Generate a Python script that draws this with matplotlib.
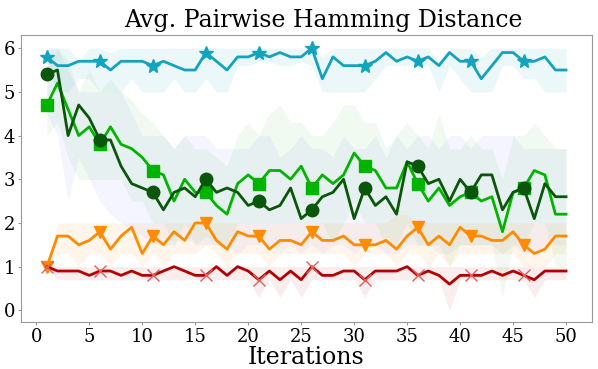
import matplotlib
matplotlib.use("Agg")
import matplotlib.pyplot as plt
import numpy as np

plt.rcParams['font.family'] = ['DejaVu Serif']

iters = np.arange(1, 51)

# mean values per method
cyan = [5.8, 5.6, 5.6, 5.7, 5.7, 5.7, 5.5, 5.7, 5.7, 5.7,
        5.6, 5.7, 5.6, 5.5, 5.5, 5.9, 5.7, 5.5, 5.8, 5.8,
        5.9, 5.8, 5.9, 5.8, 5.8, 6.0, 5.3, 5.8, 5.6, 5.6,
        5.6, 5.7, 5.9, 5.7, 5.8, 5.7, 5.8, 5.6, 5.9, 5.7,
        5.7, 5.3, 5.6, 5.9, 5.9, 5.7, 5.7, 5.8, 5.5, 5.5]
dgreen = [5.4, 5.5, 4.0, 4.7, 4.4, 3.9, 3.9, 3.3, 2.9, 2.8,
          2.7, 2.3, 2.7, 2.8, 2.6, 3.0, 2.7, 2.8, 2.7, 2.4,
          2.5, 2.3, 2.4, 2.8, 2.1, 2.3, 2.6, 2.7, 3.0, 2.1,
          2.8, 2.4, 2.6, 2.2, 3.4, 3.3, 2.9, 3.0, 2.5, 3.0,
          2.7, 3.1, 3.1, 2.3, 2.7, 2.8, 2.1, 2.9, 2.6, 2.6]
green = [4.7, 5.2, 4.6, 4.0, 4.2, 3.8, 4.2, 3.8, 3.7, 3.5,
         3.2, 3.1, 2.5, 3.0, 2.7, 2.7, 2.4, 2.2, 2.9, 3.1,
         2.9, 3.2, 3.2, 3.0, 3.3, 2.8, 3.1, 2.9, 3.1, 3.6,
         3.3, 3.2, 2.8, 2.8, 3.4, 2.9, 2.5, 2.8, 2.4, 2.6,
         2.7, 2.5, 2.6, 1.8, 2.7, 2.8, 3.2, 3.1, 2.2, 2.2]
orange = [1.0, 1.7, 1.7, 1.5, 1.6, 1.8, 1.4, 1.7, 1.9, 1.3,
          1.7, 1.5, 1.8, 1.6, 2.0, 2.0, 1.6, 1.4, 1.8, 1.7,
          1.7, 1.4, 1.6, 1.6, 1.5, 1.8, 1.6, 1.6, 1.7, 1.5,
          1.5, 1.5, 1.6, 1.4, 1.7, 1.9, 1.5, 1.7, 1.5, 1.9,
          1.7, 1.7, 1.6, 1.6, 1.8, 1.5, 1.3, 1.4, 1.7, 1.7]
red = [1.0, 0.9, 0.9, 0.9, 0.8, 0.9, 0.9, 0.8, 0.9, 0.8,
       0.8, 0.9, 1.0, 0.9, 0.8, 0.8, 1.0, 0.8, 1.0, 0.9,
       0.7, 0.9, 0.7, 0.9, 0.7, 1.0, 0.8, 0.8, 0.9, 0.9,
       0.7, 0.9, 0.9, 0.9, 1.0, 0.8, 0.9, 0.8, 0.6, 0.8,
       0.8, 0.8, 0.9, 0.8, 0.9, 0.8, 0.7, 0.9, 0.9, 0.9]

# min / max bands
cyan_lo = [5.6, 5.0, 5.0, 5.3, 5.3, 5.0, 5.0, 5.0, 5.3, 5.0,
           5.0, 5.0, 5.3, 5.0, 5.0, 5.3, 5.0, 5.0, 5.6, 5.6,
           5.7, 5.7, 5.6, 5.6, 5.7, 5.6, 5.0, 5.0, 5.0, 5.0,
           5.0, 5.3, 5.6, 5.6, 5.6, 5.6, 5.6, 5.0, 5.6, 5.3,
           5.0, 5.0, 5.0, 5.6, 5.6, 5.3, 5.3, 5.0, 5.0, 5.0]
cyan_hi = [6.0, 6.0, 6.0, 5.7, 6.0, 6.0, 5.9, 6.0, 6.0, 6.0,
           6.0, 6.0, 6.0, 6.0, 6.0, 6.0, 6.0, 6.0, 6.0, 6.0,
           6.0, 6.0, 6.0, 6.0, 6.0, 6.0, 5.8, 6.0, 6.0, 6.0,
           6.0, 6.0, 6.0, 6.0, 6.0, 6.0, 6.0, 5.7, 6.0, 6.0,
           6.0, 5.8, 6.0, 6.0, 6.0, 6.0, 6.0, 6.0, 6.0, 6.0]
dgreen_lo = [4.5, 4.0, 2.5, 3.5, 3.0, 2.5, 2.2, 2.0, 1.8, 1.7,
             1.5, 1.5, 1.5, 1.7, 1.5, 1.5, 1.5, 1.5, 1.3, 1.5,
             1.5, 1.5, 1.3, 1.5, 1.3, 1.5, 1.3, 1.5, 1.5, 1.3,
             1.5, 1.5, 1.3, 1.3, 1.5, 1.5, 1.5, 1.3, 1.3, 1.5,
             1.5, 1.5, 1.5, 1.3, 1.5, 1.3, 1.3, 1.5, 1.5, 1.5]
dgreen_hi = [6.0, 6.0, 5.5, 5.0, 5.0, 5.0, 5.0, 5.0, 4.5, 4.0,
             4.0, 4.0, 3.7, 4.0, 4.0, 4.0, 3.7, 3.7, 3.7, 3.7,
             4.0, 4.0, 3.5, 3.7, 4.0, 3.7, 3.7, 3.5, 4.0, 3.7,
             3.7, 4.0, 3.5, 4.0, 3.7, 4.0, 4.0, 3.7, 4.0, 4.0,
             3.7, 4.0, 4.0, 4.0, 4.0, 3.7, 3.7, 3.7, 3.7, 3.7]
green_lo = [4.0, 4.3, 3.5, 3.0, 3.0, 3.0, 3.0, 3.0, 2.5, 2.5,
            2.0, 2.0, 1.5, 2.0, 1.5, 1.7, 1.5, 1.3, 2.0, 2.0,
            2.0, 2.0, 2.0, 2.0, 2.0, 2.0, 2.0, 1.5, 2.0, 2.5,
            2.0, 2.0, 1.5, 1.5, 2.0, 1.5, 1.5, 1.5, 1.0, 1.5,
            1.5, 1.5, 1.5, 0.3, 1.5, 1.5, 2.0, 2.0, 1.0, 1.0]
green_hi = [5.5, 6.0, 5.7, 5.0, 5.5, 5.0, 5.3, 5.0, 4.8, 4.5,
            4.3, 4.0, 3.7, 4.0, 3.7, 3.7, 3.5, 3.3, 4.0, 4.3,
            4.0, 4.5, 4.7, 4.3, 4.3, 4.0, 4.0, 4.3, 4.7, 4.7,
            4.3, 4.3, 3.7, 4.0, 4.3, 4.0, 3.7, 4.5, 3.7, 3.7,
            4.0, 3.7, 3.7, 3.0, 4.0, 4.0, 4.3, 4.0, 3.7, 3.7]
orange_lo = [1.0, 1.3, 1.3, 1.0, 1.3, 1.3, 1.0, 1.3, 1.3, 1.0,
             1.3, 1.0, 1.3, 1.3, 1.3, 1.5, 1.3, 1.0, 1.3, 1.3,
             1.3, 1.0, 1.3, 1.3, 1.3, 1.3, 1.3, 1.3, 1.3, 1.0,
             1.3, 1.3, 1.3, 1.0, 1.3, 1.3, 1.0, 1.3, 1.0, 1.3,
             1.3, 1.3, 1.3, 1.3, 1.3, 1.0, 1.0, 1.0, 1.3, 1.3]
orange_hi = [1.0, 2.0, 2.0, 2.0, 2.0, 2.0, 2.0, 2.0, 2.0, 2.0,
             2.0, 2.0, 2.0, 2.0, 2.0, 2.0, 2.0, 2.0, 2.0, 2.0,
             2.0, 2.0, 2.0, 2.0, 2.0, 2.0, 2.0, 2.0, 2.0, 2.0,
             2.0, 2.0, 2.0, 2.2, 2.2, 2.0, 2.0, 2.0, 2.0, 2.0,
             2.0, 2.0, 2.0, 2.0, 2.0, 2.0, 2.0, 2.0, 2.0, 2.0]
red_lo = [1.0, 0.7, 0.7, 0.7, 0.7, 0.7, 0.7, 0.7, 0.7, 0.7,
          0.7, 0.7, 0.7, 0.7, 0.7, 0.7, 0.7, 0.7, 0.7, 0.7,
          0.3, 0.7, 0.3, 0.7, 0.3, 0.7, 0.7, 0.7, 0.7, 0.7,
          0.3, 0.7, 0.7, 0.7, 0.7, 0.7, 0.7, 0.7, 0.0, 0.7,
          0.7, 0.7, 0.7, 0.7, 0.7, 0.7, 0.3, 0.7, 0.7, 0.7]
red_hi = [1.0] * 50

# (mean, lo, hi, line colour, band colour, band alpha, marker, size)
series = [
    (cyan, cyan_lo, cyan_hi, '#12a3bd', '#12a3bd', 0.08, '*', 10),
    (green, green_lo, green_hi, '#00b400', '#00b400', 0.06, 's', 9),
    (dgreen, dgreen_lo, dgreen_hi, '#0a560a', '#5a5aff', 0.06, 'o', 9),
    (orange, orange_lo, orange_hi, '#ff8c00', '#ff8c00', 0.08, 'v', 9),
    (red, red_lo, red_hi, '#b50000', '#b50000', 0.07, 'x', 9),
]

fig = plt.figure(figsize=(5.98, 3.69), dpi=100)
ax = fig.add_axes([0.035, 0.127, 0.955, 0.778])

for mean, lo, hi, col, fcol, a, mk, ms in series:
    ax.fill_between(iters, lo, hi, color=fcol, alpha=a, linewidth=0)
for mean, lo, hi, col, fcol, a, mk, ms in series:
    if mk == 'x':
        ax.plot(iters, mean, color=col, lw=2.0, marker=mk, markevery=5,
                ms=ms, mew=1.0, mec='#e06060')
    else:
        ax.plot(iters, mean, color=col, lw=2.0, marker=mk, markevery=5, ms=ms)

ax.set_xlim(-1.45, 52.45)
ax.set_ylim(-0.27, 6.3)
ax.set_xticks(range(0, 51, 5))
ax.set_yticks(range(0, 7))
ax.tick_params(labelsize=13, length=2, color='#999999', pad=2)
for s in ax.spines.values():
    s.set_color('#999999')
ax.set_title('Avg. Pairwise Hamming Distance', fontsize=17, pad=6, x=0.53)
ax.set_xlabel('Iterations', fontsize=17, labelpad=0)

fig.savefig('out.png', dpi=100)
